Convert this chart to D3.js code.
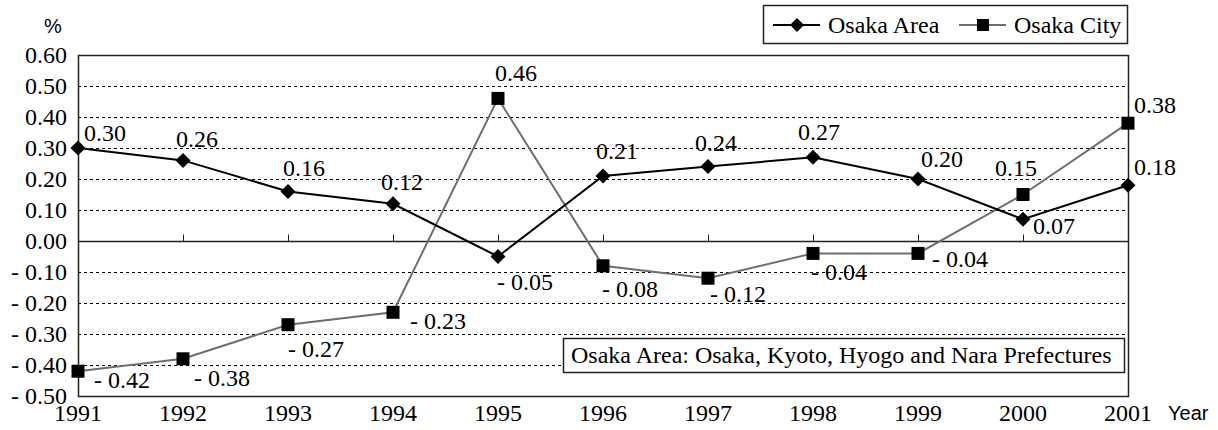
<!DOCTYPE html>
<html>
<head>
<meta charset="utf-8">
<script src="https://cdn.jsdelivr.net/npm/d3@7"></script>
<style>
  body { margin: 0; background: #fff; }
  svg { display: block; }
</style>
</head>
<body>
<svg width="1218" height="430"></svg>
<script>
(function() {
    'use strict';
    var years = ["1991", "1992", "1993", "1994", "1995", "1996", "1997", "1998", "1999", "2000", "2001"];
    var osakaArea = [0.30, 0.26, 0.16, 0.12, -0.05, 0.21, 0.24, 0.27, 0.20, 0.07, 0.18];
    var osakaCity = [-0.42, -0.38, -0.27, -0.23, 0.46, -0.08, -0.12, -0.04, -0.04, 0.15, 0.38];
    var yTicks = [0.60, 0.50, 0.40, 0.30, 0.20, 0.10, 0.00, -0.10, -0.20, -0.30, -0.40, -0.50];
    var seriesNames = ["Osaka Area", "Osaka City"];
    var noteText = "Osaka Area: Osaka, Kyoto, Hyogo and Nara Prefectures";

    // hand placed label offsets (dx from point to label centre, dy to baseline)
    var areaLabelOffset = [[27, -7], [14, -13], [16, -15], [9, -14], [27, 33], [14, -17],
        [8, -16], [6, -17], [24, -12], [31, 15], [27, -10]];
    var cityLabelOffset = [[44, 17], [39, 27], [28, 32], [45, 17], [18, -17], [27, 31],
        [30, 24], [26, 27], [42, 14], [-7, -19], [27, -10]];

    var SERIF = "Liberation Serif";
    var SANS = "Liberation Sans";

    var svg = d3.select("svg");
    var left = 78, right = 1128, top = 55, bottom = 396;
    var fontSize = 24;

    var x = d3.scalePoint().domain(years).range([left, right]);
    var y = d3.scaleLinear().domain([-0.5, 0.6]).range([bottom, top]);

    function fmt(v) {
        var s = d3.format(".2f")(Math.abs(v));
        return v < 0 ? "- " + s : s;
    }

    // grid
    svg.append("g")
        .selectAll("line")
        .data(yTicks.filter(function(d) { return d !== 0 && d !== 0.6 && d !== -0.5; }))
        .enter().append("line")
        .attr("x1", left).attr("x2", right)
        .attr("y1", function(d) { return Math.round(y(d)) + 0.5; })
        .attr("y2", function(d) { return Math.round(y(d)) + 0.5; })
        .attr("stroke", "#000")
        .attr("stroke-width", 1)
        .attr("stroke-dasharray", "3,3");

    // frame
    svg.append("rect")
        .attr("x", left + 0.5).attr("y", top + 0.5)
        .attr("width", right - left).attr("height", bottom - top)
        .attr("fill", "none").attr("stroke", "#222").attr("stroke-width", 1.5);

    // y axis labels
    var yAxis = d3.axisLeft(y).tickValues(yTicks).tickSize(0).tickPadding(11).tickFormat(fmt);
    var gy = svg.append("g").attr("transform", "translate(" + left + ",0)").call(yAxis);
    gy.select(".domain").remove();
    gy.selectAll("text")
        .attr("fill", "#000")
        .style("font-family", SERIF)
        .style("font-size", fontSize + "px");

    // zero line with category ticks
    var xAxis = d3.axisTop(x).tickSize(7).tickFormat("");
    var gx = svg.append("g").attr("transform", "translate(0," + (Math.round(y(0)) + 0.5) + ")").call(xAxis);
    gx.select(".domain").attr("d", "M" + left + ",0H" + right).attr("stroke", "#222").attr("stroke-width", 1.5);
    gx.selectAll(".tick line").attr("stroke", "#222");

    // year labels
    svg.append("g")
        .selectAll("text")
        .data(years)
        .enter().append("text")
        .style("font-family", SERIF)
        .style("font-size", fontSize + "px")
        .attr("text-anchor", "middle")
        .attr("x", function(d) { return x(d); })
        .attr("y", 421)
        .text(function(d) { return d; });

    svg.append("text").style("font-family", SANS).style("font-size", "20px")
        .attr("x", 1168).attr("y", 420).text("Year");
    svg.append("text").style("font-family", SANS).style("font-size", "20px")
        .attr("x", 44).attr("y", 33).text("%");

    // note box
    var note = svg.append("g");
    note.append("rect")
        .attr("x", 563.5).attr("y", 338.5).attr("width", 561).attr("height", 34)
        .attr("fill", "#fff").attr("stroke", "#222").attr("stroke-width", 1.5);
    note.append("text").style("font-family", SERIF).style("font-size", fontSize + "px")
        .attr("x", 571).attr("y", 363).text(noteText);

    // lines
    var line = d3.line()
        .x(function(d, i) { return x(years[i]); })
        .y(function(d) { return y(d); });

    svg.append("path").datum(osakaCity)
        .attr("d", line).attr("fill", "none")
        .attr("stroke", "#6e6e6e").attr("stroke-width", 2);
    svg.append("path").datum(osakaArea)
        .attr("d", line).attr("fill", "none")
        .attr("stroke", "#000").attr("stroke-width", 2);

    svg.append("g").selectAll("path")
        .data(osakaCity)
        .enter().append("path")
        .attr("d", "M-6.5,-6.5h13v13h-13z")
        .attr("transform", function(d, i) { return "translate(" + x(years[i]) + "," + y(d) + ")"; })
        .attr("fill", "#000");

    svg.append("g").selectAll("path")
        .data(osakaArea)
        .enter().append("path")
        .attr("d", "M0,-7.5L7.5,0L0,7.5L-7.5,0Z")
        .attr("transform", function(d, i) { return "translate(" + x(years[i]) + "," + y(d) + ")"; })
        .attr("fill", "#000");

    // data labels
    function labels(values, offsets) {
        svg.append("g")
            .selectAll("text")
            .data(values)
            .enter().append("text")
            .style("font-family", SERIF)
            .style("font-size", fontSize + "px")
            .attr("text-anchor", "middle")
            .attr("x", function(d, i) { return x(years[i]) + offsets[i][0]; })
            .attr("y", function(d, i) { return y(d) + offsets[i][1]; })
            .text(fmt);
    }
    labels(osakaArea, areaLabelOffset);
    labels(osakaCity, cityLabelOffset);

    // legend
    var lg = svg.append("g");
    lg.append("rect")
        .attr("x", 763.5).attr("y", 5.5).attr("width", 364).attr("height", 38)
        .attr("fill", "#fff").attr("stroke", "#222").attr("stroke-width", 1.5);
    var items = lg.selectAll("g.item")
        .data(seriesNames)
        .enter().append("g")
        .attr("class", "item")
        .attr("transform", function(d, i) { return "translate(" + (773 + i * 186) + ",25)"; });
    items.append("line")
        .attr("x1", 0).attr("x2", 47).attr("y1", 0).attr("y2", 0)
        .attr("stroke", function(d, i) { return i ? "#6e6e6e" : "#000"; })
        .attr("stroke-width", 2);
    items.append("path")
        .attr("d", function(d, i) { return i ? "M-6,-6h12v12h-12z" : "M0,-7L7,0L0,7L-7,0Z"; })
        .attr("transform", "translate(24,0)")
        .attr("fill", "#000");
    items.append("text")
        .style("font-family", SERIF)
        .style("font-size", fontSize + "px")
        .attr("x", 55)
        .attr("y", 8)
        .text(function(d) { return d; });
}());
</script>
</body>
</html>
